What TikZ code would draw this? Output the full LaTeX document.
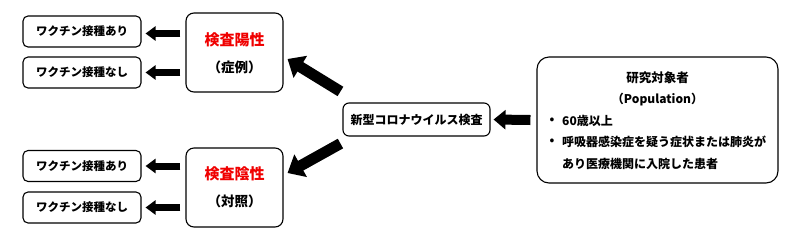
\documentclass[tikz,border=0pt]{standalone}
\usepackage{fontspec}
\setmainfont{Noto Sans CJK JP}
\usetikzlibrary{arrows.meta}
\definecolor{posred}{RGB}{240,0,0}
\begin{document}
\begin{tikzpicture}[x=1pt,y=-1pt,
  sbox/.style={draw=black, line width=1.1pt, rounded corners=5pt, inner sep=0pt,
    minimum width=118pt, minimum height=31pt, font=\bfseries\fontsize{11.5}{13}\selectfont},
  gbox/.style={draw=black, line width=1.1pt, rounded corners=8pt, inner sep=0pt,
    minimum width=97pt, minimum height=79pt, align=center},
  ttl/.style={text=posred, font=\bfseries\fontsize{15}{17}\selectfont},
  sub/.style={font=\bfseries\fontsize{13.5}{15}\selectfont},
  txt/.style={font=\bfseries\fontsize{12}{14}\selectfont, inner sep=0pt},
  smarr/.style={line width=7pt, -{Triangle[length=10pt,width=14pt]}},
  bigarr/.style={line width=11pt, -{Triangle[length=15pt,width=25pt]}},
  rarr/.style={line width=10pt, -{Triangle[length=12pt,width=19pt]}}]
\useasboundingbox[fill=white] (0,0) rectangle (800,242);

% left boxes
\node[sbox] (a1) at (82,31.5) {ワクチン接種あり};
\node[sbox] (a2) at (82,72.5) {ワクチン接種なし};
\node[sbox] (b1) at (82,166) {ワクチン接種あり};
\node[sbox] (b2) at (82,207.5) {ワクチン接種なし};

% group boxes
\node[gbox] (pos) at (234.5,52.5) {};
\node[ttl] (postitle) at (234.5,40) {検査陽性};
\node[sub] (possub) at (234.5,67) {（症例）};
\node[gbox] (neg) at (234.5,187.5) {};
\node[ttl] (negtitle) at (234.5,174) {検査陰性};
\node[sub] (negsub) at (234.5,201) {（対照）};

% middle box
\node[draw=black, line width=1.1pt, rounded corners=6pt, inner sep=0pt,
  minimum width=147pt, minimum height=33pt, font=\bfseries\fontsize{12}{14}\selectfont]
  (mid) at (416.5,119.5) {新型コロナウイルス検査};

% population box
\node[draw=black, line width=1.1pt, rounded corners=12pt, inner sep=0pt,
  minimum width=241pt, minimum height=126pt] (pop) at (657.5,120) {};
\node[font=\bfseries\fontsize{12.5}{14}\selectfont, inner sep=0pt] (poptitle) at (657.5,78) {研究対象者};
\node[font=\bfseries\fontsize{12}{14}\selectfont, inner sep=0pt] (popsub) at (657.5,100) {（Population）};
\node[txt] (bul1) at (552,121) {\textbullet};
\node[txt, anchor=west] (it1) at (562,121) {60歳以上};
\node[txt] (bul2) at (552,142) {\textbullet};
\node[txt, anchor=west] (it2) at (562,142) {呼吸器感染症を疑う症状または肺炎が};
\node[txt, anchor=west] (it3) at (562,163.5) {あり医療機関に入院した患者};

% arrows
\draw[smarr] ([xshift=-5pt,yshift=-2pt]pos.west |- a1.east) -- ([xshift=4pt,yshift=-2pt]a1.east);
\draw[smarr] ([xshift=-5pt]pos.west |- a2.east) -- ([xshift=4pt]a2.east);
\draw[smarr] ([xshift=-5pt]neg.west |- b1.east) -- ([xshift=4pt]b1.east);
\draw[smarr] ([xshift=-5pt]neg.west |- b2.east) -- ([xshift=4pt]b2.east);
\draw[bigarr] ([xshift=-2pt,yshift=11pt]mid.north west) -- ([xshift=4pt,yshift=-6.5pt]pos.east);
\draw[bigarr] ([xshift=-2pt,yshift=-7pt]mid.south west) -- ([xshift=4pt,yshift=14.5pt]neg.east);
\draw[rarr] ([xshift=-6pt]pop.west) -- ([xshift=3pt]mid.east);
\end{tikzpicture}
\end{document}
